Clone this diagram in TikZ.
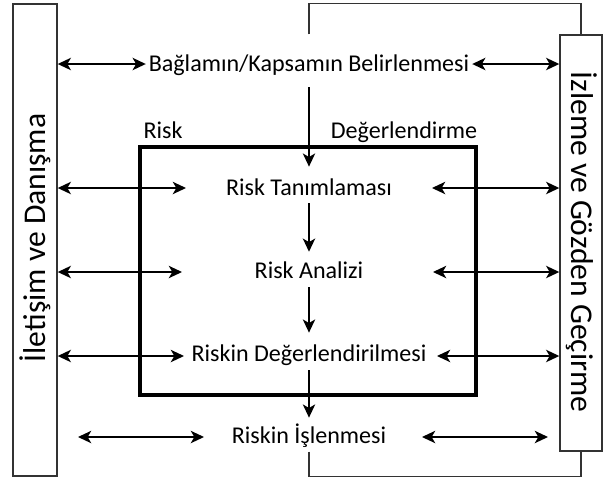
\documentclass[tikz,border=0pt]{standalone}
\usepackage{fontspec}
\setmainfont{Carlito}
\usepackage{tikz}
\usetikzlibrary{calc}
\usetikzlibrary{positioning}
\usetikzlibrary{arrows.meta}

\begin{document}
\begin{tikzpicture}[
		x=0.02cm, y=-0.02cm,
		t/.style = {inner sep=0pt, text height=10.5pt, text depth=2pt, font=\fontsize{13.7}{16}\selectfont},
		v/.style = {inner sep=0pt, font=\fontsize{18}{21}\selectfont},
		b/.style = {rectangle, draw=black!80, line width=0.8pt},
		big/.style = {rectangle, draw, line width=2.3pt, minimum width=6.72cm, minimum height=4.96cm},
		r/.style = {-{Stealth[length=7.5pt, width=7pt, inset=2pt]}, line width=1.1pt},
		d/.style = {{Stealth[length=7.5pt, width=7pt, inset=2pt]}-{Stealth[length=7.5pt, width=7pt, inset=2pt]}, line width=1.1pt},
		l/.style = {draw=black!80, line width=0.8pt},
		]
		\useasboundingbox (0,0) rectangle (606,478);
		
		% === === Nodes === ===
		\node[b, minimum width=0.88cm, minimum height=9.44cm]	(comm)	at	(35, 240)	{};
		\node[b, minimum width=0.84cm, minimum height=8.32cm]	(mon)	at	(581, 243)	{};
		\node[v, rotate=90]		(commtxt)	at	(35, 238)	{İletişim ve Danışma};
		\node[v, rotate=-90]	(montxt)	at	(582, 242)	{İzleme ve Gözden Geçirme};
		\node[big]	(ra)	at	(308, 271)	{};
		
		\node[t]	(ctx)	at	(309, 64)	{Bağlamın/Kapsamın Belirlenmesi};
		\node[t]	(rl)	at	(163, 131)	{Risk};
		\node[t]	(dl)	at	(404, 131)	{Değerlendirme};
		\node[t]	(id)	at	(309, 188)	{Risk Tanımlaması};
		\node[t]	(an)	at	(309, 271)	{Risk Analizi};
		\node[t]	(ev)	at	(309, 354)	{Riskin Değerlendirilmesi};
		\node[t]	(tr)	at	(309, 436)	{Riskin İşlenmesi};
		
		\coordinate (idL)	at	(186, 188);
		\coordinate (idR)	at	(432, 188);
		\coordinate (anL)	at	(182, 272);
		\coordinate (anR)	at	(433, 272);
		\coordinate (evL)	at	(184, 356);
		\coordinate (evR)	at	(437, 356);
		\coordinate (trA)	at	(78, 437);
		\coordinate (trB)	at	(204, 437);
		\coordinate (trC)	at	(422, 437);
		\coordinate (trD)	at	(548, 437);
		
		% === === Lines === ===
		\draw[d, shorten >=1.5pt]	(comm.east |- ctx)	--	(ctx.west);
		\draw[d, shorten <=1.5pt]	(ctx.east)	--	(mon.west |- ctx);
		\draw[d]	(comm.east |- idL)	--	(idL);
		\draw[d]	(idR)	--	(mon.west |- idR);
		\draw[d]	(comm.east |- anL)	--	(anL);
		\draw[d]	(anR)	--	(mon.west |- anR);
		\draw[d]	(comm.east |- evL)	--	(evL);
		\draw[d]	(evR)	--	(mon.west |- evR);
		\draw[d]	(trA)	--	(trB);
		\draw[d]	(trC)	--	(trD);
		
		\draw[r, shorten <=6.8pt, shorten >=5.7pt]	(ctx.south)	--	(id.north);
		\draw[r, shorten <=2.3pt, shorten >=4.5pt]	(id.south)	--	(an.north);
		\draw[r, shorten <=2.8pt, shorten >=5.7pt]	(an.south)	--	(ev.north);
		\draw[r, shorten <=2.8pt, shorten >=4pt]	(ev.south)	--	(tr.north);
		
		\draw[l]	(ctx.north |- mon.north)	--	(ctx.north |- comm.north)	-|	(mon.north);
		\draw[l]	(tr.south |- mon.south)	--	(tr.south |- comm.south)	-|	(mon.south);
		
	\end{tikzpicture}
\end{document}
